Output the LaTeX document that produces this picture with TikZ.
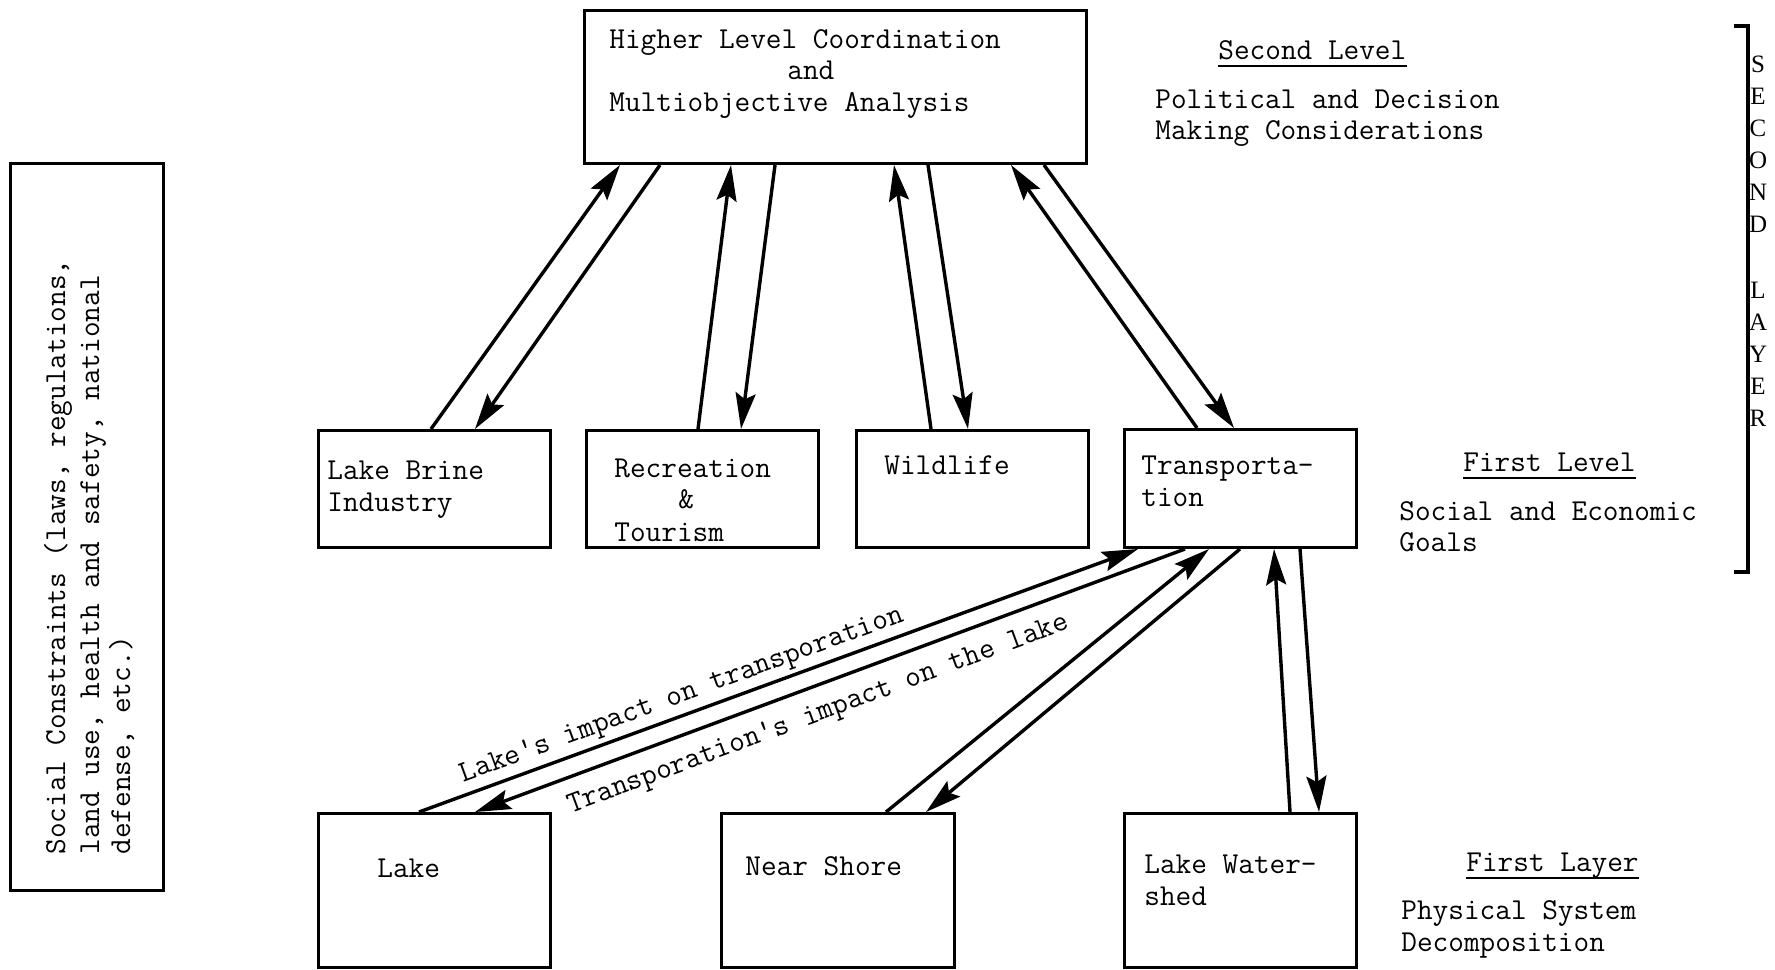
\documentclass[tikz,border=0pt]{standalone}
\usepackage{fontspec}
\newfontfamily\layerfont{Liberation Serif}
\usetikzlibrary{arrows.meta,calc}
\begin{document}
\begin{tikzpicture}[x=0.5pt,y=-0.5pt,
  box/.style={draw,line width=1.5pt,rectangle,inner sep=0pt,anchor=north west},
  tw/.style={font=\fontsize{15.2}{16}\selectfont\ttfamily,inner sep=0pt,anchor=base west},
  link/.style={line width=1.7pt,-{Stealth[length=18pt,width=10pt,inset=3pt]}},
  uline/.style={line width=1pt}]
\useasboundingbox (0,0) rectangle (1775,969);

% ---- boxes ----
\node[box,minimum width=251pt,minimum height=76.5pt] (top) at (583,9) {};
\node[box,minimum width=76.5pt,minimum height=363.5pt] (soc) at (9,162) {};
\node[box,minimum width=116pt,minimum height=58.5pt] (lb) at (317,429) {};
\node[box,minimum width=116pt,minimum height=58.5pt] (rec) at (585,429) {};
\node[box,minimum width=116pt,minimum height=58.5pt] (wild) at (855,429) {};
\node[box,minimum width=116pt,minimum height=59pt] (trans) at (1123,428) {};
\node[box,minimum width=116pt,minimum height=77pt] (lake) at (317,812) {};
\node[box,minimum width=116.5pt,minimum height=77pt] (ns) at (720,812) {};
\node[box,minimum width=116pt,minimum height=77pt] (lw) at (1123,812) {};

% ---- box texts ----
\node[tw] (t1) at (609,48) {Higher Level Coordination};
\node[tw] (t2) at (787,79) {and};
\node[tw] (t3) at (609,111) {Multiobjective Analysis};

\node[tw] (lb1) at (327,479) {Lake Brine};
\node[tw] (lb2) at (327,511) {Industry};
\node[tw] (rc1) at (614,477) {Recreation};
\node[tw] (rc2) at (678,508) {\&};
\node[tw] (rc3) at (614,541) {Tourism};
\node[tw] (wl1) at (884,474) {Wildlife};
\node[tw] (tr1) at (1141,474) {Transporta-};
\node[tw] (tr2) at (1141,506) {tion};
\node[tw] (lk1) at (377,877) {Lake};
\node[tw] (ns1) at (745,875) {Near Shore};
\node[tw] (lw1) at (1144,873) {Lake Water-};
\node[tw] (lw2) at (1144,905) {shed};

\node[tw,rotate=90] (sc1) at (65,855) {Social Constraints (laws, regulations,};
\node[tw,rotate=90] (sc2) at (99,855) {land use, health and safety, national};
\node[tw,rotate=90] (sc3) at (130,855) {defense, etc.)};

% ---- level captions ----
\node[tw] (sl) at (1218,59) {Second Level};
\draw[uline] ($(sl.base west)+(0,7)$) -- ($(sl.base east)+(0,7)$);
\node[tw] (sl1) at (1155,108) {Political and Decision};
\node[tw] (sl2) at (1155,139) {Making Considerations};

\node[tw] (fl) at (1463,471) {First Level};
\draw[uline] ($(fl.base west)+(0,7)$) -- ($(fl.base east)+(0,7)$);
\node[tw] (fl1) at (1399,520) {Social and Economic};
\node[tw] (fl2) at (1399,551) {Goals};

\node[tw] (fy) at (1466,871) {First Layer};
\draw[uline] ($(fy.base west)+(0,7)$) -- ($(fy.base east)+(0,7)$);
\node[tw] (fy1) at (1401,919) {Physical System};
\node[tw] (fy2) at (1401,951) {Decomposition};

% ---- second layer bracket ----
\node[font=\layerfont\fontsize{12.5}{16}\selectfont,align=center,inner sep=0pt,anchor=north] (layer)
  at (1758,56) {S\\E\\C\\O\\N\\D\\[17pt]L\\A\\Y\\E\\R};
\draw[line width=2pt] (1734,26) -- (1748,26) -- (1748,572) -- (1734,572);

% ---- links between coordination and goals ----
\draw[link] ($(lb.north west)+(114,0)$) -- ($(top.south west)+(37,0)$);
\draw[link] ($(top.south west)+(77,0)$) -- ($(lb.north west)+(158,0)$);
\draw[link] ($(rec.north west)+(113,0)$) -- ($(top.south west)+(148,0)$);
\draw[link] ($(top.south west)+(192,0)$) -- ($(rec.north west)+(156,0)$);
\draw[link] ($(wild.north west)+(76,0)$) -- ($(top.south west)+(311,0)$);
\draw[link] ($(top.south west)+(345,0)$) -- ($(wild.north west)+(113,0)$);
\draw[link] ($(trans.north west)+(74,0)$) -- ($(top.south west)+(428,0)$);
\draw[link] ($(top.south west)+(461,0)$) -- ($(trans.north west)+(111,0)$);

% ---- links between transportation and physical system ----
\draw[link] ($(lake.north west)+(102,0)$) -- node[tw,anchor=south,sloped,pos=0.375,inner sep=2pt] (li1) {Lake's impact on transporation} ($(trans.south west)+(15,0)$);
\draw[link] ($(trans.south west)+(62,0)$) -- node[tw,anchor=north,sloped,pos=0.53,inner sep=7pt] (li2) {Transporation's impact on the lake} ($(lake.north west)+(158,0)$);
\draw[link] ($(ns.north west)+(166,0)$) -- ($(trans.south west)+(86,0)$);
\draw[link] ($(trans.south west)+(117,0)$) -- ($(ns.north west)+(206,0)$);
\draw[link] ($(lw.north west)+(167,0)$) -- ($(trans.south west)+(151,0)$);
\draw[link] ($(trans.south west)+(177,0)$) -- ($(lw.north west)+(196,0)$);
\end{tikzpicture}
\end{document}
